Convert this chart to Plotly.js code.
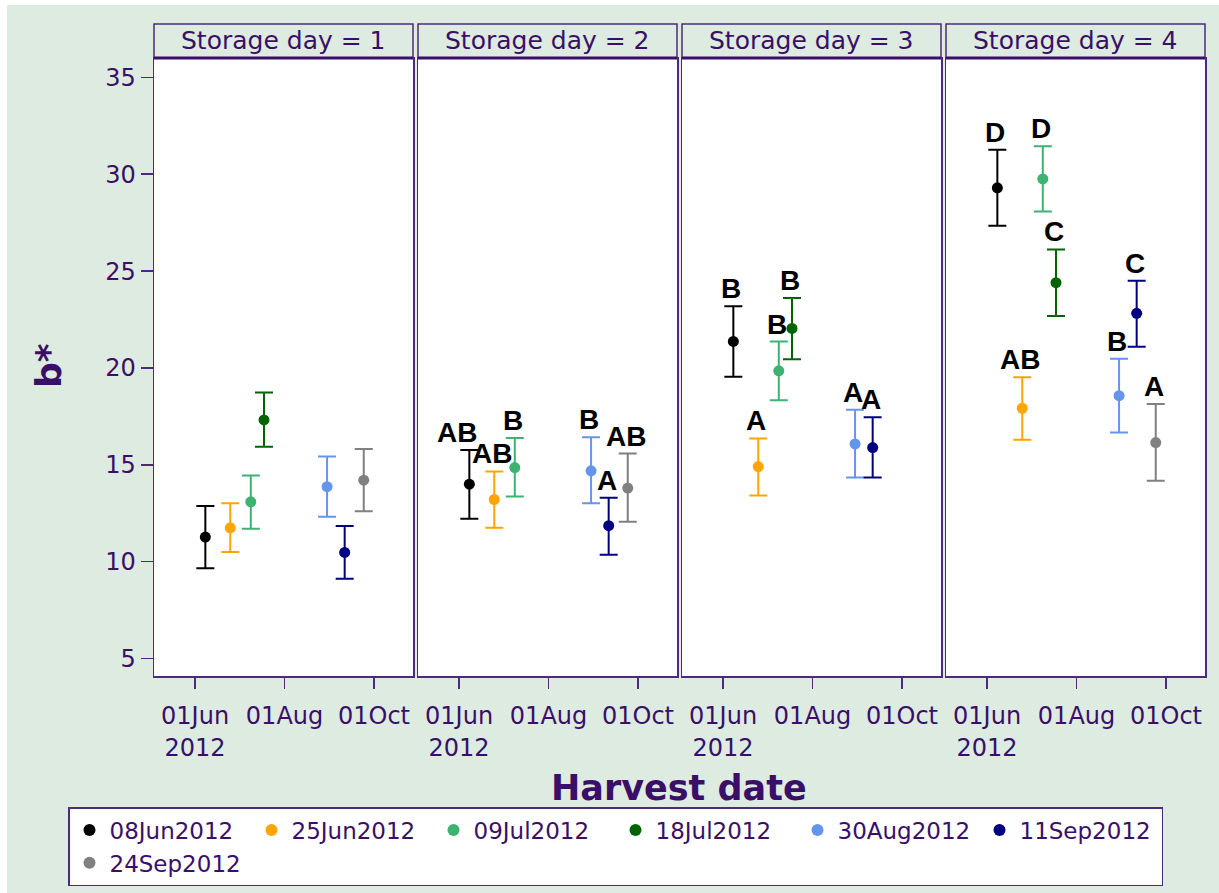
<!DOCTYPE html>
<html><head><meta charset="utf-8">
<script src="https://cdn.plot.ly/plotly-3.0.1.min.js"></script>
<style>html,body{margin:0;padding:0;background:#fff;} #chart{width:1219px;height:893px;}</style>
</head><body><div id="chart"></div>
<script>
// ---------- data ----------
const harvestDates  = ['2012-06-08','2012-06-25','2012-07-09','2012-07-18','2012-08-30','2012-09-11','2012-09-24'];
const harvestLabels = ['08Jun2012','25Jun2012','09Jul2012','18Jul2012','30Aug2012','11Sep2012','24Sep2012'];
const storageDays   = [1, 2, 3, 4];
const xTickVals     = ['2012-06-01','2012-08-01','2012-10-01'];
const xTickText     = ['01Jun<br>2012','01Aug','01Oct'];
const yTickVals     = [5, 10, 15, 20, 25, 30, 35];

const day1Mean  = [11.27, 11.75, 13.09, 17.32, 13.87, 10.48, 14.21];
const day1Upper = [12.87, 13.02, 14.45, 18.73, 15.43, 11.84, 15.82];
const day1Lower = [ 9.66, 10.50, 11.70, 15.93, 12.32,  9.12, 12.60];
const day1Letters = ['', '', '', '', '', '', ''];

const day2Mean  = [14.00, 13.21, 14.86, null, 14.69, 11.86, 13.80];
const day2Upper = [15.76, 14.66, 16.39, null, 16.43, 13.30, 15.58];
const day2Lower = [12.22, 11.75, 13.37, null, 13.02, 10.36, 12.06];
const day2Letters = ['AB', 'AB', 'B', '', 'B', 'A', 'AB'];

const day3Mean  = [21.37, 14.91, 19.85, 22.04, 16.08, 15.89, null];
const day3Upper = [23.18, 16.36, 21.36, 23.61, 17.84, 17.46, null];
const day3Lower = [19.55, 13.42, 18.33, 20.45, 14.35, 14.35, null];
const day3Letters = ['B', 'A', 'B', 'B', 'A', 'A', ''];

const day4Mean  = [29.30, 17.92, 29.76, 24.40, 18.57, 22.82, 16.15];
const day4Upper = [31.27, 19.52, 31.44, 26.12, 20.48, 24.50, 18.14];
const day4Lower = [27.34, 16.29, 28.08, 22.68, 16.67, 21.10, 14.18];
const day4Letters = ['D', 'AB', 'D', 'C', 'B', 'C', 'A'];

// ---------- styles ----------
const harvestColors = ['#000000','#FFA500','#3CB371','#006400','#6495ED','#000080','#808080'];
const TXT = '#3a0f68', LINE = '#4b2a80', BG = '#DEEBE1';
const FONT = 'DejaVu Sans, Verdana, sans-serif';
const W = 1219, H = 893;

const panels = [
  {mean: day1Mean, upper: day1Upper, lower: day1Lower, letters: day1Letters},
  {mean: day2Mean, upper: day2Upper, lower: day2Lower, letters: day2Letters},
  {mean: day3Mean, upper: day3Upper, lower: day3Lower, letters: day3Letters},
  {mean: day4Mean, upper: day4Upper, lower: day4Lower, letters: day4Letters}
];
// label nudge to avoid collision (panel index, harvest index) -> px
const labelNudge = {'1-0': -10};

const panelLeftPx = [154, 418, 682, 946], panelWidthPx = 259;
const plotTopPx = 58, plotBottomPx = 676, stripTopPx = 24;
const yDom = [(H - plotBottomPx) / H, (H - plotTopPx) / H];

const traces = [], annotations = [], shapes = [];
const layout = {
  width: W, height: H,
  margin: {l: 0, r: 0, t: 0, b: 0},
  paper_bgcolor: BG, plot_bgcolor: '#FFFFFF',
  font: {family: FONT, color: TXT, size: 24},
  showlegend: true,
  legend: {
    orientation: 'h', x: 68 / W, xanchor: 'left', y: (H - 886) / H, yanchor: 'bottom',
    bgcolor: '#FFFFFF', bordercolor: LINE, borderwidth: 1.5,
    font: {family: FONT, size: 23, color: TXT},
    traceorder: 'normal', itemsizing: 'constant',
    entrywidth: 137, entrywidthmode: 'pixels'
  }
};

panels.forEach((p, i) => {
  const xs = i === 0 ? 'x' : 'x' + (i + 1);
  const ys = i === 0 ? 'y' : 'y' + (i + 1);
  const xName = i === 0 ? 'xaxis' : 'xaxis' + (i + 1);
  const yName = i === 0 ? 'yaxis' : 'yaxis' + (i + 1);
  const d0 = panelLeftPx[i] / W, d1 = (panelLeftPx[i] + panelWidthPx) / W;

  layout[xName] = {
    domain: [d0, d1], anchor: ys, type: 'date',
    range: ['2012-05-04', '2012-10-27 14:00'],
    tickmode: 'array', tickvals: xTickVals, ticktext: xTickText,
    ticks: 'outside', ticklen: 11, tickwidth: 1.5, tickcolor: LINE,
    ticklabelstandoff: 7,
    showline: true, mirror: true, linecolor: LINE, linewidth: 1.5,
    showgrid: false, zeroline: false, fixedrange: true,
    tickfont: {family: FONT, size: 24, color: TXT}
  };
  layout[yName] = {
    domain: yDom, anchor: xs, range: [4.1, 36],
    tickmode: 'array', tickvals: yTickVals,
    ticks: i === 0 ? 'outside' : '', ticklen: 12, tickwidth: 1.5, tickcolor: LINE,
    showticklabels: i === 0,
    showline: true, mirror: true, linecolor: LINE, linewidth: 1.5,
    showgrid: false, zeroline: false, fixedrange: true,
    tickfont: {family: FONT, size: 24, color: TXT}
  };
  if (i > 0) layout[yName].matches = 'y';

  // strip header
  shapes.push({type: 'rect', xref: 'paper', yref: 'paper',
    x0: d0, x1: d1, y0: (H - plotTopPx) / H, y1: (H - stripTopPx) / H,
    fillcolor: BG, line: {color: LINE, width: 1.5}});
  shapes.push({type: 'line', xref: 'paper', yref: 'paper',
    x0: d0, x1: d1, y0: (H - plotTopPx) / H, y1: (H - plotTopPx) / H,
    line: {color: '#3a0f68', width: 3}});
  annotations.push({xref: 'paper', yref: 'paper', x: (d0 + d1) / 2, y: (H - (stripTopPx + plotTopPx) / 2) / H,
    xanchor: 'center', yanchor: 'middle', showarrow: false,
    text: 'Storage day = ' + storageDays[i], font: {family: FONT, size: 25, color: TXT}});

  harvestDates.forEach((dt, h) => {
    if (p.mean[h] === null) return;
    traces.push({
      type: 'scatter', mode: 'markers', xaxis: xs, yaxis: ys,
      x: [dt], y: [p.mean[h]], name: harvestLabels[h], showlegend: i === 0,
      marker: {color: harvestColors[h], size: 11},
      error_y: {type: 'data', symmetric: false,
        array: [p.upper[h] - p.mean[h]], arrayminus: [p.mean[h] - p.lower[h]],
        color: harvestColors[h], thickness: 2, width: 9},
      hoverinfo: 'x+y'
    });
    if (p.letters[h]) {
      annotations.push({xref: xs, yref: ys, x: dt, y: p.upper[h],
        xanchor: 'center', yanchor: 'bottom', showarrow: false,
        xshift: -2 + (labelNudge[i + '-' + h] || 0),
        text: '<b>' + p.letters[h] + '</b>',
        font: {family: 'Liberation Sans, Arial, sans-serif', size: 28, color: '#000000'}});
    }
  });
});

// axis titles
annotations.push({xref: 'paper', yref: 'paper', x: 48 / W, y: (H - 366) / H,
  xanchor: 'center', yanchor: 'middle', showarrow: false, textangle: -90,
  text: '<b>b*</b>', font: {family: FONT, size: 36, color: TXT}});
annotations.push({xref: 'paper', yref: 'paper', x: 679 / W, y: (H - 788) / H,
  xanchor: 'center', yanchor: 'middle', showarrow: false,
  text: '<b>Harvest date</b>', font: {family: FONT, size: 35, color: TXT}});

// thin white border of the picture (top and left)
shapes.push({type: 'rect', xref: 'paper', yref: 'paper', x0: 0, x1: 7 / W, y0: 0, y1: 1,
  fillcolor: '#FFFFFF', line: {width: 0}});
shapes.push({type: 'rect', xref: 'paper', yref: 'paper', x0: 0, x1: 1, y0: (H - 5) / H, y1: 1,
  fillcolor: '#FFFFFF', line: {width: 0}});

layout.shapes = shapes;
layout.annotations = annotations;

Plotly.newPlot('chart', traces, layout, {displayModeBar: false, staticPlot: true});
</script></body></html>
